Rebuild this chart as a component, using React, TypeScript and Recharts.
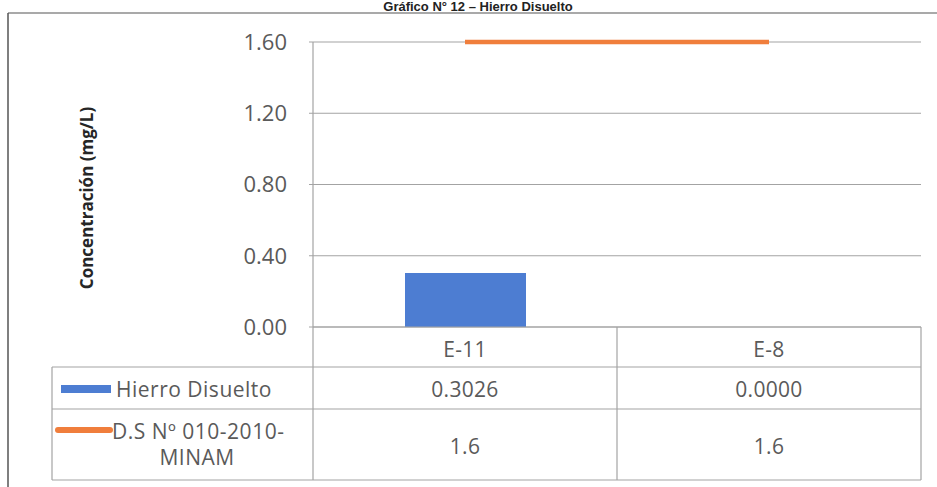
import React from 'react';
import { ComposedChart, Bar, Line, XAxis, YAxis, CartesianGrid } from 'recharts';

const estaciones = ['E-11', 'E-8'];
const hierroDisuelto = [0.3026, 0.0];
const normaMinam = [1.6, 1.6];
const yTicks = [0, 0.4, 0.8, 1.2, 1.6];

const data = estaciones.map((estacion, i) => ({
  estacion,
  hierro: hierroDisuelto[i],
  norma: normaMinam[i],
}));

const W = 937;
const H = 487;
const PLOT_LEFT = 313;
const PLOT_RIGHT = 921;
const PLOT_TOP = 42;
const PLOT_BOTTOM = 327;
const FONT = '"Open Sans", Lato, sans-serif';
const TEXT = '#5a5a5a';
const GRID = '#a3a3a3';
const BLUE = '#4d7dd2';
const ORANGE = '#f07e3c';

const TableTick = (props: any) => {
  const { x, y, payload, index } = props;
  const i = typeof index === 'number' ? index : estaciones.indexOf(payload.value);
  return (
    <g fontFamily={FONT} fontSize={21} fill={TEXT} textAnchor="middle" letterSpacing={0.3}>
      <text x={x} y={y + 30}>{payload.value}</text>
      <text x={x} y={y + 70}>{hierroDisuelto[i].toFixed(4)}</text>
      <text x={x} y={y + 127}>{String(normaMinam[i])}</text>
    </g>
  );
};

const Overlay = () => {
  const mid = (PLOT_LEFT + PLOT_RIGHT) / 2;
  const rows = [PLOT_BOTTOM, 367, 409, 480];
  return (
    <svg width={W} height={H} style={{ position: 'absolute', left: 0, top: 0, pointerEvents: 'none' }}>
      <text x={478} y={11} textAnchor="middle" fontFamily="'Liberation Sans', Arial, sans-serif" fontWeight="bold" fontSize={13} fill="#222">
        Gráfico N° 12 – Hierro Disuelto
      </text>
      <line x1={8} y1={13} x2={W} y2={13} stroke="#8c8c8c" strokeWidth={1.5} />
      <line x1={8} y1={13} x2={8} y2={H} stroke="#555" strokeWidth={1.5} />

      <text
        transform="translate(93, 198) rotate(-90)"
        textAnchor="middle"
        fontFamily={FONT}
        fontWeight="bold"
        fontSize={17}
        fill="#262626"
      >
        Concentración (mg/L)
      </text>

      {/* data table grid */}
      <g stroke={GRID} strokeWidth={1.2}>
        <line x1={PLOT_LEFT} y1={rows[0]} x2={PLOT_RIGHT} y2={rows[0]} />
        <line x1={52} y1={rows[1]} x2={PLOT_RIGHT} y2={rows[1]} />
        <line x1={52} y1={rows[2]} x2={PLOT_RIGHT} y2={rows[2]} />
        <line x1={52} y1={rows[3]} x2={PLOT_RIGHT} y2={rows[3]} />
        <line x1={52} y1={rows[1]} x2={52} y2={rows[3]} />
        <line x1={PLOT_LEFT} y1={rows[0]} x2={PLOT_LEFT} y2={rows[3]} />
        <line x1={mid} y1={rows[0]} x2={mid} y2={rows[3]} />
        <line x1={PLOT_RIGHT} y1={rows[0]} x2={PLOT_RIGHT} y2={rows[3]} />
      </g>

      {/* legend keys */}
      <rect x={61} y={385} width={50} height={8} fill={BLUE} />
      <line x1={58} y1={430} x2={110} y2={430} stroke={ORANGE} strokeWidth={6} strokeLinecap="round" />
      <g fontFamily={FONT} fontSize={21} fill={TEXT} letterSpacing={0.5}>
        <text x={116} y={397}>Hierro Disuelto</text>
        <text x={112} y={439}>D.S Nº 010-2010-</text>
        <text x={197} y={465} textAnchor="middle">MINAM</text>
      </g>
    </svg>
  );
};

export default function App() {
  return (
    <div style={{ position: 'absolute', left: 0, top: 0, width: W, height: H, overflow: 'hidden', background: '#fff' }}>
      <ComposedChart
        width={W}
        height={H}
        data={data}
        margin={{ top: PLOT_TOP, right: W - PLOT_RIGHT, bottom: 0, left: PLOT_LEFT - 120 }}
      >
        <CartesianGrid vertical={false} stroke={GRID} strokeWidth={1.2} />
        <XAxis
          dataKey="estacion"
          height={H - PLOT_BOTTOM}
          axisLine={false}
          tickLine={false}
          tickSize={0}
          tickMargin={0}
          interval={0}
          tick={<TableTick />}
        />
        <YAxis
          width={120}
          domain={[0, 1.6]}
          ticks={yTicks}
          tickFormatter={(v: number) => v.toFixed(2)}
          axisLine={{ stroke: GRID, strokeWidth: 1.2 }}
          tickLine={{ stroke: GRID }}
          tickSize={4}
          tickMargin={22}
          tick={{ fontFamily: FONT, fontSize: 22, fill: TEXT }}
        />
        <Bar dataKey="hierro" name="Hierro Disuelto" fill={BLUE} barSize={121} isAnimationActive={false} />
        <Line
          dataKey="norma"
          name="D.S Nº 010-2010-MINAM"
          stroke={ORANGE}
          strokeWidth={4.5}
          dot={false}
          isAnimationActive={false}
        />
      </ComposedChart>
      <Overlay />
    </div>
  );
}
